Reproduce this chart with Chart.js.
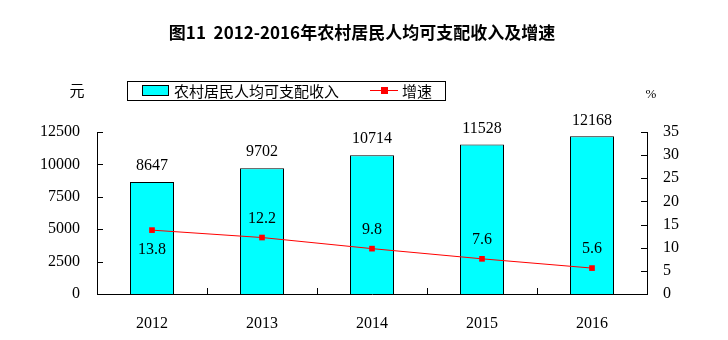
<!DOCTYPE html>
<html>
<head>
<meta charset="utf-8">
<script src="https://cdn.jsdelivr.net/npm/chart.js@4"></script>
<style>
  body { margin: 0; background: #fff; }
  #wrap { width: 728px; height: 340px; position: relative; }
</style>
</head>
<body>
<div id="wrap"><canvas id="incomeChart" width="728" height="340"></canvas></div>
<script>
const years = ['2012', '2013', '2014', '2015', '2016'];
const income = [8647, 9702, 10714, 11528, 12168];
const growth = [13.8, 12.2, 9.8, 7.6, 5.6];
const leftTicks = [0, 2500, 5000, 7500, 10000, 12500];
const rightTicks = [0, 5, 10, 15, 20, 25, 30, 35];

const numFont = '16px "Liberation Serif", "DejaVu Serif", serif';
const cjkFont = '15px "Noto Sans CJK SC", sans-serif';
const tickFont = { family: '"Liberation Serif", serif', size: 16 };

const extras = {
  id: 'extras',
  afterDraw(chart) {
    const ctx = chart.ctx;
    const area = chart.chartArea;
    const x = chart.scales.x;
    const y = chart.scales.y;
    const y1 = chart.scales.y1;
    ctx.save();

    // inside ticks
    ctx.strokeStyle = '#000';
    ctx.lineWidth = 1;
    ctx.beginPath();
    leftTicks.forEach(v => {
      const py = Math.round(y.getPixelForValue(v)) + 0.5;
      ctx.moveTo(area.left, py); ctx.lineTo(area.left + 6, py);
    });
    rightTicks.forEach(v => {
      const py = Math.round(y1.getPixelForValue(v)) + 0.5;
      ctx.moveTo(area.right, py); ctx.lineTo(area.right - 6, py);
    });
    for (let i = 0; i < years.length - 1; i++) {
      const px = Math.round((x.getPixelForValue(i) + x.getPixelForValue(i + 1)) / 2) + 0.5;
      ctx.moveTo(px, area.bottom); ctx.lineTo(px, area.bottom - 6);
    }
    ctx.stroke();

    // value labels
    ctx.fillStyle = '#000';
    ctx.font = numFont;
    ctx.textAlign = 'center';
    ctx.textBaseline = 'middle';
    const barMeta = chart.getDatasetMeta(0);
    barMeta.data.forEach((bar, i) => {
      ctx.fillText(String(income[i]), bar.x, bar.y - 16);
    });
    const lineMeta = chart.getDatasetMeta(1);
    lineMeta.data.forEach((pt, i) => {
      const dy = i === 0 ? 20 : -19;
      ctx.fillText(growth[i].toFixed(1), pt.x, pt.y + dy);
    });

    // title
    ctx.font = 'bold 17px "Noto Sans CJK SC", sans-serif';
    ctx.fillText('图11  2012-2016年农村居民人均可支配收入及增速', 362, 33);

    // unit labels
    ctx.font = cjkFont;
    ctx.fillText('元', 77, 90);
    ctx.font = '13px "Liberation Serif", serif';
    ctx.fillText('%', 651, 95);

    // legend
    ctx.strokeStyle = '#000';
    ctx.strokeRect(127.5, 81.5, 318, 19);
    ctx.fillStyle = '#00ffff';
    ctx.fillRect(143, 86, 25, 9);
    ctx.strokeRect(142.5, 85.5, 26, 10);
    ctx.fillStyle = '#000';
    ctx.font = cjkFont;
    ctx.textAlign = 'left';
    ctx.fillText('农村居民人均可支配收入', 174, 91);
    ctx.strokeStyle = '#ff0000';
    ctx.beginPath();
    ctx.moveTo(370, 90.5); ctx.lineTo(398, 90.5);
    ctx.stroke();
    ctx.fillStyle = '#ff0000';
    ctx.fillRect(381, 87, 7, 7);
    ctx.fillStyle = '#000';
    ctx.fillText('增速', 402, 91);

    ctx.restore();
  }
};

new Chart(document.getElementById('incomeChart').getContext('2d'), {
  data: {
    labels: years,
    datasets: [
      {
        type: 'bar',
        label: '农村居民人均可支配收入',
        data: income,
        yAxisID: 'y',
        backgroundColor: '#00ffff',
        borderColor: '#000',
        borderWidth: 1,
        categoryPercentage: 1,
        barPercentage: 0.4,
        order: 2
      },
      {
        type: 'line',
        label: '增速',
        data: growth,
        yAxisID: 'y1',
        borderColor: '#ff0000',
        borderWidth: 1,
        backgroundColor: '#ff0000',
        pointStyle: 'rect',
        pointRadius: 4,
        pointBorderWidth: 0,
        tension: 0,
        order: 1
      }
    ]
  },
  options: {
    responsive: false,
    animation: false,
    layout: { padding: { top: 132, left: 0, right: 0, bottom: 0 } },
    plugins: { legend: { display: false }, title: { display: false }, tooltip: { enabled: false } },
    scales: {
      x: {
        offset: true,
        grid: { display: false },
        border: { display: true, color: '#000', width: 1 },
        ticks: { color: '#000', font: tickFont, padding: 12 },
        afterFit: s => { s.height = 46; }
      },
      y: {
        position: 'left',
        min: 0, max: 12500,
        grid: { display: false },
        border: { display: true, color: '#000', width: 1 },
        ticks: { stepSize: 2500, color: '#000', font: tickFont, padding: 9, callback: v => String(v) },
        afterFit: s => { s.width = 97; }
      },
      y1: {
        position: 'right',
        min: 0, max: 35,
        grid: { display: false },
        border: { display: true, color: '#000', width: 1 },
        ticks: { stepSize: 5, color: '#000', font: tickFont, padding: 8, callback: v => String(v) },
        afterFit: s => { s.width = 81; }
      }
    }
  },
  plugins: [extras]
});
</script>
</body>
</html>
